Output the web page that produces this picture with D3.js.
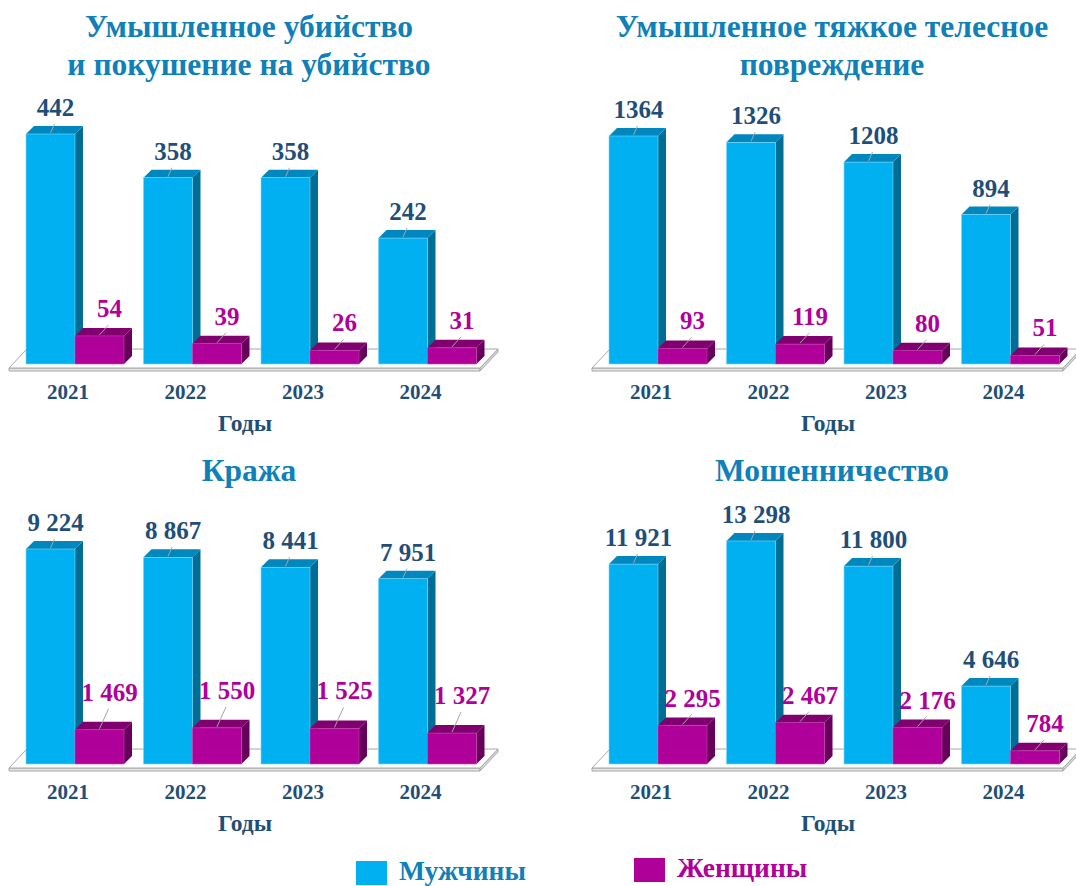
<!doctype html>
<html>
<head>
<meta charset="utf-8">
<title>Мужчины и женщины по видам преступлений</title>
<script src="https://d3js.org/d3.v7.min.js"></script>
<style>
  body { margin: 0; background: #fff; }
  svg text { font-family: "Liberation Serif", Tinos, "Times New Roman", "DejaVu Serif", serif; font-weight: 700; }
</style>
</head>
<body>
<script>
// --- data ---
var years = ["2021", "2022", "2023", "2024"];
var seriesNames = ["Мужчины", "Женщины"];
var titles = [
  ["Умышленное убийство", "и покушение на убийство"],
  ["Умышленное тяжкое телесное", "повреждение"],
  ["Кража"],
  ["Мошенничество"]
];
var murderMen = [442, 358, 358, 242];
var murderWomen = [54, 39, 26, 31];
var injuryMen = [1364, 1326, 1208, 894];
var injuryWomen = [93, 119, 80, 51];
var theftMen = [9224, 8867, 8441, 7951];
var theftWomen = [1469, 1550, 1525, 1327];
var fraudMen = [11921, 13298, 11800, 4646];
var fraudWomen = [2295, 2467, 2176, 784];

// --- layout ---
var W = 1076, H = 886;
var colors = {
  men:   { front: "#00b0f0", top: "#0087bd", side: "#006d95", edge: "#7fd6f7", label: "#1f4e79" },
  women: { front: "#b0009a", top: "#80006f", side: "#66005a", edge: "#c640b2", label: "#b0009a" }
};
var titleColor = "#0f80b8";
var navy = "#1f4e79";
var depth = 8;

var plain = d3.format("d");
var spaced = d3.formatLocale({ decimal: ",", thousands: " ", grouping: [3], currency: ["", ""] }).format(",d");

var panels = [
  { title: titles[0], men: murderMen, women: murderWomen, x0: 26, base: 364, h: 230, titleY: 37, fmt: plain, lift: 19 },
  { title: titles[1], men: injuryMen, women: injuryWomen, x0: 609, base: 364, h: 228, titleY: 37, fmt: plain, lift: 19 },
  { title: titles[2], men: theftMen, women: theftWomen, x0: 26, base: 764, h: 215, titleY: 481, fmt: spaced, lift: 29 },
  { title: titles[3], men: fraudMen, women: fraudWomen, x0: 609, base: 764, h: 223, titleY: 481, fmt: spaced, lift: 19 }
];

var svg = d3.select("body").append("svg")
    .attr("width", W)
    .attr("height", H);

function drawBar(g, x, w, yTop, yBase, c) {
  g.append("path")
      .attr("d", "M" + (x + w) + "," + yTop + "L" + (x + w + depth) + "," + (yTop - depth) +
                 "L" + (x + w + depth) + "," + (yBase - depth) + "L" + (x + w) + "," + yBase + "Z")
      .attr("fill", c.side);
  g.append("path")
      .attr("d", "M" + x + "," + yTop + "L" + (x + depth) + "," + (yTop - depth) +
                 "L" + (x + w + depth) + "," + (yTop - depth) + "L" + (x + w) + "," + yTop + "Z")
      .attr("fill", c.top);
  g.append("rect")
      .attr("x", x).attr("y", yTop)
      .attr("width", w).attr("height", yBase - yTop)
      .attr("fill", c.front)
      .attr("stroke", c.edge).attr("stroke-width", 0.6);
}

panels.forEach(function(p) {
  var g = svg.append("g");

  var x = d3.scaleBand()
      .domain(years)
      .range([p.x0, p.x0 + 3 * 117.5 + 98])
      .paddingInner(19.5 / 117.5)
      .paddingOuter(0);
  var xs = d3.scaleBand()
      .domain(["men", "women"])
      .range([0, x.bandwidth()]);
  var y = d3.scaleLinear()
      .domain([0, d3.max(p.men)])
      .range([p.base, p.base - p.h]);

  // floor
  var fl = p.x0 - 17, fr = p.x0 + 454, fy = p.base + 4;
  g.append("path")
      .attr("d", "M" + fl + "," + fy + "L" + fr + "," + fy + "L" + fr + "," + (fy + 3) + "L" + fl + "," + (fy + 3) + "Z")
      .attr("fill", "#e6e6e6").attr("stroke", "#a6a6a6").attr("stroke-width", 1);
  g.append("path")
      .attr("d", "M" + fr + "," + fy + "L" + (fr + 18) + "," + (fy - 19) + "L" + (fr + 18) + "," + (fy - 16) +
                 "L" + fr + "," + (fy + 3) + "Z")
      .attr("fill", "#d9d9d9").attr("stroke", "#a6a6a6").attr("stroke-width", 1);
  g.append("path")
      .attr("d", "M" + fl + "," + fy + "L" + (fl + 18) + "," + (fy - 19) + "L" + (fr + 18) + "," + (fy - 19) +
                 "L" + fr + "," + fy + "Z")
      .attr("fill", "#ffffff").attr("stroke", "#a6a6a6").attr("stroke-width", 1);

  // bars
  years.forEach(function(yr, i) {
    ["men", "women"].forEach(function(s) {
      var v = p[s][i];
      var bx = x(yr) + xs(s), bw = xs.bandwidth();
      var top = y(v);
      drawBar(g, bx, bw, top, p.base, colors[s]);

      var cx = bx + bw / 2;
      var lift = s === "men" ? 18 : p.lift;
      var shift = s === "men" ? 5 : 10;
      g.append("line")
          .attr("x1", cx).attr("y1", top - 1)
          .attr("x2", cx + shift - 1).attr("y2", top - lift + 8)
          .attr("stroke", "#a6a6a6").attr("stroke-width", 1);
      g.append("text")
          .attr("x", cx + shift).attr("y", top - lift)
          .attr("text-anchor", "middle")
          .attr("font-size", 25)
          .attr("fill", colors[s].label)
          .text(p.fmt(v));
    });

    g.append("text")
        .attr("x", x(yr) + x.bandwidth() / 2 - 7)
        .attr("y", p.base + 35)
        .attr("text-anchor", "middle")
        .attr("font-size", 21)
        .attr("fill", navy)
        .text(yr);
  });

  g.append("text")
      .attr("x", p.x0 + 219)
      .attr("y", p.base + 67)
      .attr("text-anchor", "middle")
      .attr("font-size", 23.5)
      .attr("fill", navy)
      .text("Годы");

  // title
  g.append("text")
      .attr("x", p.x0 + 223)
      .attr("text-anchor", "middle")
      .attr("font-size", 31.5)
      .attr("fill", titleColor)
      .selectAll("tspan")
      .data(p.title)
      .enter()
      .append("tspan")
      .attr("x", p.x0 + 223)
      .attr("y", function(d, i) { return p.titleY + i * 38; })
      .text(function(d) { return d; });
});

// legend
var legend = [
  { name: seriesNames[0], c: colors.men.front, tc: titleColor, x: 356, y: 861 },
  { name: seriesNames[1], c: colors.women.front, tc: colors.women.label, x: 634, y: 858 }
];
legend.forEach(function(l) {
  svg.append("rect")
      .attr("x", l.x).attr("y", l.y)
      .attr("width", 31).attr("height", 24)
      .attr("fill", l.c);
  svg.append("text")
      .attr("x", l.x + 43).attr("y", l.y + 19)
      .attr("font-size", 27.5)
      .attr("fill", l.tc)
      .text(l.name);
});
</script>
</body>
</html>
